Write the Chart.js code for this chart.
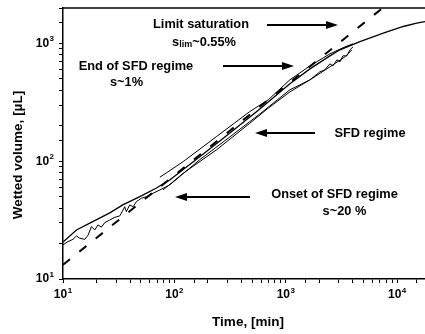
<!DOCTYPE html>
<html>
<head>
<meta charset="utf-8">
<script src="https://cdn.jsdelivr.net/npm/chart.js@4/dist/chart.umd.min.js"></script>
<style>
html,body{margin:0;padding:0;background:#fff;}
#c{display:block;}
</style>
</head>
<body>
<canvas id="c" width="425" height="334"></canvas>
<script>
// ---- data (time in min, wetted volume in µL) ----
const runA_time = [10,13.2,18.5,26.3,34.4,48.9,69,90.8,169,315,585,1089,1648,2490,3063,4634,7499,11350,14960,17780];
const runA_vol  = [20.6,26.1,30.7,36.4,42.6,50.0,59.3,69.3,109,174,278,454,608,785,883,1038,1224,1393,1487,1535];

const runB_time = [10,11.1,12.3,13.2,14.1,15.7,16.8,18.0,19.3,20.6,22.1,23.7,26.3,29.2,32.3,34.6,35.8,37.1,39.7,42.6,45.6,50.6,56.1,64.4,74.0,90.8,169,315,585,1089,1648,2023,2244,2490,2648,2877,3063,3260,3540,3767,4010];
const runB_vol  = [19.5,20.8,21.7,23.2,22.2,21.7,23.6,27.8,26.1,28.8,27.5,30.1,31.7,33.4,34.3,38.5,41.1,37.3,42.6,41.1,45.4,48.5,50.0,53.5,57.0,62.9,103,161,252,404,491,574,597,671,645,726,698,785,785,883,935];

const runC_time = [74,120,239,475,695,1089,1648,2490,3397,4010];
const runC_vol  = [73.1,99.3,162,264,332,491,645,816,935,993];

const runD_time = [79.1,120,239,475,695,1089,1648,2490,3397,3926];
const runD_vol  = [57.0,79.1,125,210,282,388,491,633,769,883];

const fit_time = [10,7400];
const fit_vol  = [13.2,2000];

const xDecades = [1,2,3,4];
const yDecades = [1,2,3];

const FONT = '"Liberation Sans", Arial, sans-serif';

function pts(xs, ys){ return xs.map((x,i)=>({x:x, y:ys[i]})); }
function solid(xs, ys, w){
  return {data: pts(xs,ys), borderColor:'#000', borderWidth:w, pointRadius:0, tension:0, fill:false};
}

const labelsPlugin = {
  id:'labels',
  afterDraw(chart){
    const ctx = chart.ctx;
    const ca = chart.chartArea;
    const xs = chart.scales.x, ys = chart.scales.y;
    ctx.save();
    // top frame
    ctx.strokeStyle = '#000';
    ctx.lineWidth = 1.5;
    ctx.beginPath();
    ctx.moveTo(ca.left, ca.top);
    ctx.lineTo(ca.right, ca.top);
    ctx.stroke();

    ctx.fillStyle = '#000';
    ctx.textBaseline = 'middle';
    function pow(px, py, e, align){
      ctx.font = 'bold 12px ' + FONT;
      const w1 = ctx.measureText('10').width;
      ctx.font = 'bold 8px ' + FONT;
      const w2 = ctx.measureText(String(e)).width;
      const tot = w1 + w2 + 0.5;
      const sx = align === 'center' ? px - tot/2 : px - tot;
      ctx.textAlign = 'left';
      ctx.font = 'bold 12px ' + FONT;
      ctx.fillText('10', sx, py);
      ctx.font = 'bold 8px ' + FONT;
      ctx.fillText(String(e), sx + w1 + 0.5, py - 4.5);
    }
    xDecades.forEach(e => pow(xs.getPixelForValue(Math.pow(10,e)), ca.bottom + 16, e, 'center'));
    yDecades.forEach(e => pow(ca.left - 9, ys.getPixelForValue(Math.pow(10,e)), e, 'right'));

    // axis titles
    ctx.textAlign = 'center';
    ctx.font = 'bold 13.5px ' + FONT;
    ctx.fillText('Time, [min]', 248, 322);
    ctx.save();
    ctx.translate(18, 155);
    ctx.rotate(-Math.PI/2);
    ctx.fillText('Wetted volume, [µL]', 0, 0);
    ctx.restore();

    // annotations
    const aFont = 'bold 12.8px ' + FONT;
    function txt(s, x, y){ ctx.font = aFont; ctx.textAlign='center'; ctx.fillText(s, x, y); }
    txt('Limit saturation', 201, 24);
    // s_lim~0.55%
    ctx.font = aFont;
    const wa = ctx.measureText('s').width;
    const wc = ctx.measureText('~0.55%').width;
    ctx.font = 'bold 9px ' + FONT;
    const wb = ctx.measureText('lim').width;
    let sx = 204 - (wa+wb+wc)/2;
    ctx.textAlign = 'left';
    ctx.font = aFont; ctx.fillText('s', sx, 42);
    ctx.font = 'bold 9px ' + FONT; ctx.fillText('lim', sx+wa, 45);
    ctx.font = aFont; ctx.fillText('~0.55%', sx+wa+wb, 42);

    txt('End of SFD regime', 136, 66);
    txt('s~1%', 126.5, 82);
    txt('SFD regime', 370, 133);
    txt('Onset of SFD regime', 334.5, 194);
    txt('s~20 %', 344.5, 211);

    function arrow(x1, x2, y){
      const dir = Math.sign(x2 - x1);
      ctx.lineWidth = 2;
      ctx.beginPath();
      ctx.moveTo(x1, y);
      ctx.lineTo(x2 - dir*9, y);
      ctx.stroke();
      ctx.beginPath();
      ctx.moveTo(x2, y);
      ctx.lineTo(x2 - dir*12, y - 4);
      ctx.lineTo(x2 - dir*12, y + 4);
      ctx.closePath();
      ctx.fill();
    }
    arrow(267, 338, 25);
    arrow(223, 294, 66);
    arrow(315, 255, 133);
    arrow(250, 175, 197);
    ctx.restore();
  }
};

new Chart(document.getElementById('c'), {
  type:'line',
  data:{
    datasets:[
      solid(runD_time, runD_vol, 1),
      solid(runC_time, runC_vol, 1),
      solid(runB_time, runB_vol, 1),
      solid(runA_time, runA_vol, 1.3),
      {data: pts(fit_time, fit_vol), borderColor:'#000', borderWidth:2, borderDash:[9,12], pointRadius:0, fill:false}
    ]
  },
  options:{
    responsive:false,
    devicePixelRatio:1,
    animation:false,
    events:[],
    layout:{padding:{left:0,right:0,top:8,bottom:0}},
    plugins:{legend:{display:false}, tooltip:{enabled:false}},
    scales:{
      x:{
        type:'logarithmic', min:10, max:17780,
        ticks:{display:false},
        grid:{drawOnChartArea:false, drawTicks:true, tickLength:4, color:'#000', tickColor:'#000', tickWidth:1},
        border:{display:true, color:'#000', width:1.5},
        afterFit(s){ s.height = 55; }
      },
      y:{
        type:'logarithmic', min:10, max:2000,
        ticks:{display:false},
        grid:{drawOnChartArea:false, drawTicks:true, tickLength:4, color:'#000', tickColor:'#000', tickWidth:1},
        border:{display:true, color:'#000', width:1.5},
        afterFit(s){ s.width = 63; }
      }
    }
  },
  plugins:[labelsPlugin]
});
</script>
</body>
</html>
